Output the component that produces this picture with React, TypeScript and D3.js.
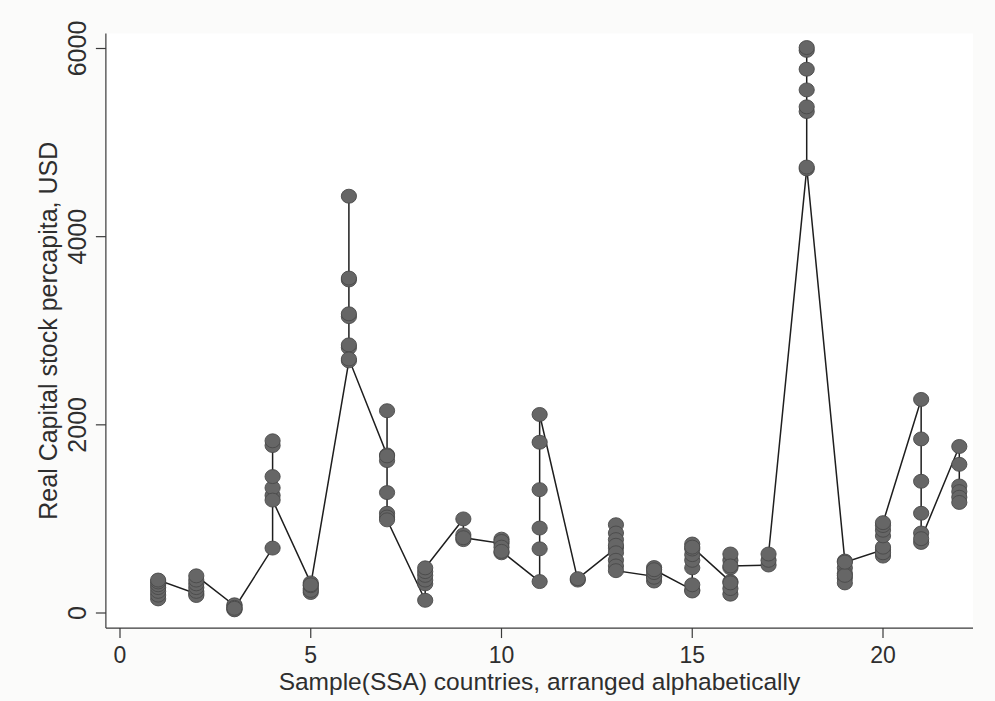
import React from 'react';
import * as d3 from 'd3';

// Country index (arranged alphabetically, 1..22)
const countries: number[] = d3.range(1, 23);

// Real capital stock per capita (USD), one row per country, in data order
const capitalStock: number[][] = [
  [150, 190, 230, 270, 300, 330, 350],
  [205, 186, 230, 270, 310, 350, 395],
  [80, 87, 60, 40, 34, 50],
  [690, 1250, 1330, 1450, 1780, 1830, 1200],
  [320, 260, 218, 240, 290, 300],
  [2680, 2820, 3150, 3540, 4430, 3560, 3180, 2850, 2700],
  [1680, 1620, 2150, 1670, 1280, 1060, 1020, 990],
  [135, 310, 350, 400, 440, 480],
  [1000, 830, 780, 800],
  [740, 785, 760, 700, 640, 655],
  [334, 682, 903, 1311, 1815, 2110],
  [350, 365],
  [690, 938, 850, 780, 720, 640, 560, 500, 450],
  [390, 340, 380, 430, 483, 460],
  [245, 234, 300, 480, 560, 620, 680, 733, 700],
  [334, 200, 260, 320, 480, 560, 627, 500],
  [510, 560, 627],
  [4720, 5330, 5380, 5560, 5780, 5980, 6010, 4740],
  [552, 480, 420, 370, 320, 400, 540],
  [671, 605, 640, 700, 820, 880, 930, 960],
  [2270, 1850, 1400, 1060, 850, 750, 790],
  [1770, 1580, 1350, 1290, 1230, 1175],
];

const xTicks: number[] = [0, 5, 10, 15, 20];
const yTicks: number[] = [0, 2000, 4000, 6000];
const xAxisExtent: number[] = [-0.37, 22.36];
const yAxisExtent: number[] = [-160, 6160];
const xTitle = 'Sample(SSA) countries, arranged alphabetically';
const yTitle = 'Real Capital stock percapita, USD';

type Pt = { c: number; v: number };

export default function App() {
  const W = 995;
  const H = 701;
  const font = '"Liberation Sans", Arial, Helvetica, sans-serif';
  const textColor = '#2e2e2e';
  const axisColor = '#3a3a3a';

  const x = d3.scaleLinear().domain([0, 20]).range([120, 883]);
  const y = d3.scaleLinear().domain([0, 6000]).range([613, 48.5]);

  const points: Pt[] = countries.flatMap((c, i) => capitalStock[i].map((v) => ({ c, v })));
  const line = d3
    .line<Pt>()
    .x((d) => x(d.c))
    .y((d) => y(d.v));

  const axX = x(xAxisExtent[0]);
  const axY = y(yAxisExtent[0]);

  return (
    <svg
      width={W}
      height={H}
      viewBox={`0 0 ${W} ${H}`}
      style={{ position: 'fixed', left: 0, top: 0, display: 'block', background: '#fcfcfc' }}
    >
      <rect x={0} y={0} width={W} height={H} fill="#fbfbfa" />
      <rect x={axX} y={y(yAxisExtent[1])} width={x(xAxisExtent[1]) - axX} height={axY - y(yAxisExtent[1])} fill="#ffffff" />

      {/* axes */}
      <line x1={axX} x2={axX} y1={y(yAxisExtent[1])} y2={axY} stroke={axisColor} strokeWidth={1.2} />
      <line x1={axX} x2={x(xAxisExtent[1])} y1={axY} y2={axY} stroke={axisColor} strokeWidth={1.2} />

      {yTicks.map((t) => (
        <g key={'yt' + t}>
          <line x1={axX - 10} x2={axX} y1={y(t)} y2={y(t)} stroke={axisColor} strokeWidth={1.2} />
          <text
            transform={`translate(${86},${y(t)}) rotate(-90)`}
            textAnchor="middle"
            fontFamily={font}
            fontSize={25}
            fill={textColor}
          >
            {t}
          </text>
        </g>
      ))}

      {xTicks.map((t) => (
        <g key={'xt' + t}>
          <line x1={x(t)} x2={x(t)} y1={axY} y2={axY + 10} stroke={axisColor} strokeWidth={1.2} />
          <text x={x(t)} y={663} textAnchor="middle" fontFamily={font} fontSize={23} fill={textColor}>
            {t}
          </text>
        </g>
      ))}

      <text
        x={(axX + x(xAxisExtent[1])) / 2}
        y={690}
        textAnchor="middle"
        fontFamily={font}
        fontSize={24.5}
        fill={textColor}
      >
        {xTitle}
      </text>
      <text
        transform={`translate(${57},${(axY + y(yAxisExtent[1])) / 2}) rotate(-90)`}
        textAnchor="middle"
        fontFamily={font}
        fontSize={25}
        fill={textColor}
      >
        {yTitle}
      </text>

      {/* connected line */}
      <path d={line(points) || ''} fill="none" stroke="#1e1e1e" strokeWidth={1.5} />

      {/* markers */}
      {points.map((p, i) => (
        <ellipse
          key={'m' + i}
          cx={x(p.c)}
          cy={y(p.v)}
          rx={7.6}
          ry={7}
          fill="#666666"
          stroke="#4a4a4a"
          strokeWidth={0.9}
        />
      ))}
    </svg>
  );
}
